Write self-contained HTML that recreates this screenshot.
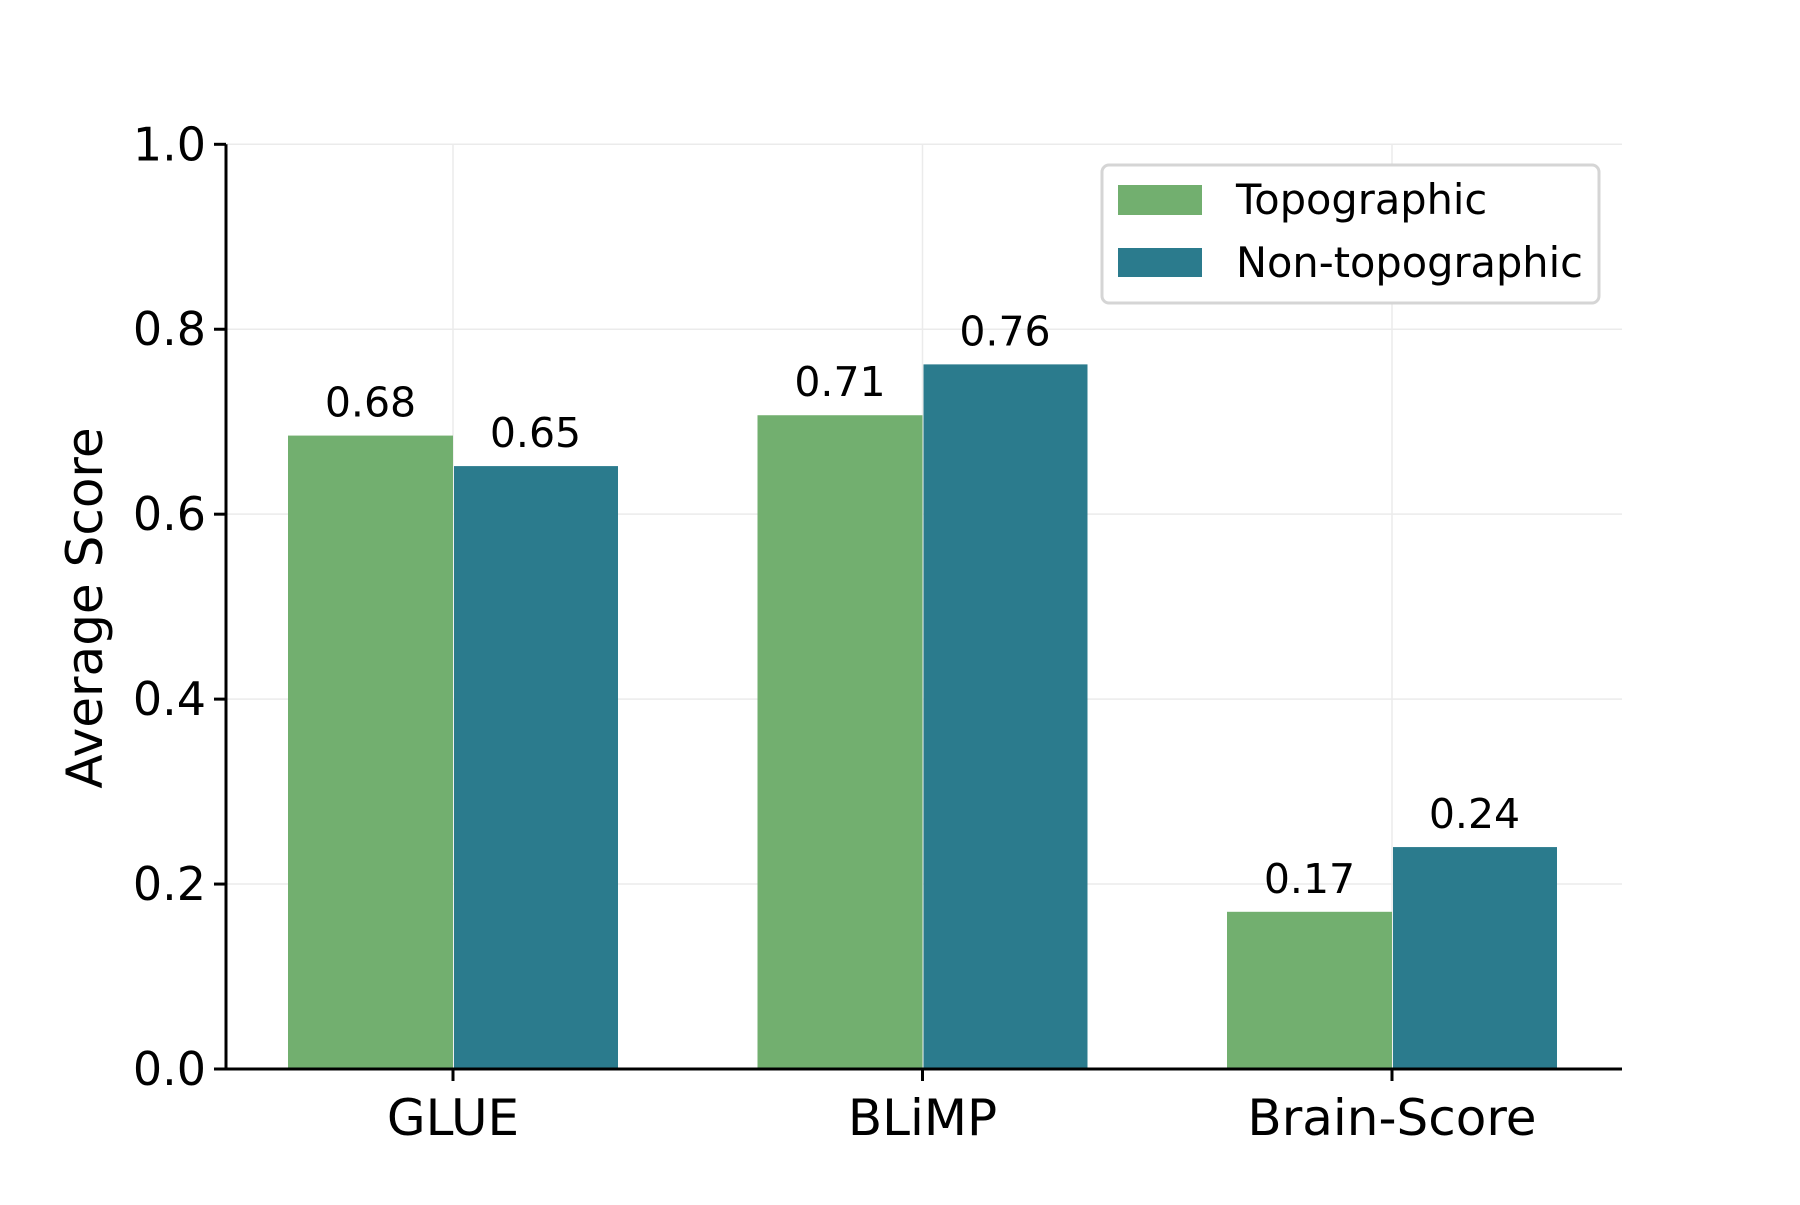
<!DOCTYPE html>
<html><head><meta charset="utf-8"><style>
html,body{margin:0;padding:0;background:#fff;}
svg text{font-family:"DejaVu Sans","Liberation Sans",sans-serif;fill:#000;}
</style></head><body>
<svg id="chart" width="1800" height="1200" viewBox="0 0 1800 1200" xmlns="http://www.w3.org/2000/svg">
<g id="grid"></g><g id="bars"></g><g id="axes"></g><g id="labels"></g>
<g id="legend">
<rect x="1102" y="165" width="497" height="138" rx="7" fill="#fff" stroke="#d5d5d5" stroke-width="3"/>
<rect x="1118" y="185" width="84" height="30" fill="#72af6f"/>
<text x="1236" y="214" font-size="41.5">Topographic</text>
<rect x="1118" y="248" width="84" height="29" fill="#2b7b8d"/>
<text x="1236" y="277" font-size="41.5">Non-topographic</text>
</g>
<text transform="translate(102,608) rotate(-90)" text-anchor="middle" font-size="50">Average Score</text>
</svg>
<script>
const categories = ["GLUE","BLiMP","Brain-Score"];
const topographic = [0.685, 0.707, 0.170];
const nonTopographic = [0.652, 0.762, 0.240];
const topoLabels = ["0.68","0.71","0.17"];
const nonTopoLabels = ["0.65","0.76","0.24"];
const yTicks = [0,0.2,0.4,0.6,0.8,1.0];
const yTickLabels = ["0.0","0.2","0.4","0.6","0.8","1.0"];

const NS="http://www.w3.org/2000/svg";
const L=226,R=1622,T=144.3,B=1069;
const x0=453, step=469.5, bw=165;
const xPos=i=>x0+i*step;
const yPos=v=>B-(B-T)*v;
function mk(tag,parent,attrs){const e=document.createElementNS(NS,tag);for(const k in attrs)e.setAttribute(k,attrs[k]);document.getElementById(parent).appendChild(e);return e;}

yTicks.forEach((t,i)=>{
  const g=mk('line','grid',{x1:L,x2:R,y1:yPos(t),y2:yPos(t),stroke:'#ebebeb','stroke-width':1.5});
  
  
  const tk=mk('line','axes',{x1:L-12,x2:L,y1:yPos(t),y2:yPos(t),stroke:'#000','stroke-width':3});
  
  
  const lb=mk('text','labels',{x:L-20,y:yPos(t)+16,'text-anchor':'end','font-size':46});
  lb.textContent=yTickLabels[i];
  
  
});
categories.forEach((c,i)=>{
  const cx=xPos(i);
  const g=mk('line','grid',{x1:cx,x2:cx,y1:T,y2:B,stroke:'#ebebeb','stroke-width':1.5});
  
  
  const b1=mk('rect','bars',{x:cx-bw,y:yPos(topographic[i]),width:bw,height:B-yPos(topographic[i]),fill:'#72af6f'});
  
  
  const b2=mk('rect','bars',{x:cx+1,y:yPos(nonTopographic[i]),width:bw-1,height:B-yPos(nonTopographic[i]),fill:'#2b7b8d'});
  
  
  const v1=mk('text','labels',{x:cx-bw/2,y:yPos(topographic[i])-19,'text-anchor':'middle','font-size':41});
  v1.textContent=topoLabels[i];
  
  
  const v2=mk('text','labels',{x:cx+bw/2,y:yPos(nonTopographic[i])-19,'text-anchor':'middle','font-size':41});
  v2.textContent=nonTopoLabels[i];
  
  
  const tk=mk('line','axes',{x1:cx,x2:cx,y1:B,y2:B+12,stroke:'#000','stroke-width':3});
  
  
  const cl=mk('text','labels',{x:cx,y:B+66,'text-anchor':'middle','font-size':50});
  cl.textContent=c;
  
  
});
const ya=mk('line','axes',{x1:L,x2:L,y1:T,y2:B+1.5,stroke:'#000','stroke-width':3});


const xa=mk('line','axes',{x1:L-1.5,x2:R,y1:B,y2:B,stroke:'#000','stroke-width':3});


</script>
</body></html>
